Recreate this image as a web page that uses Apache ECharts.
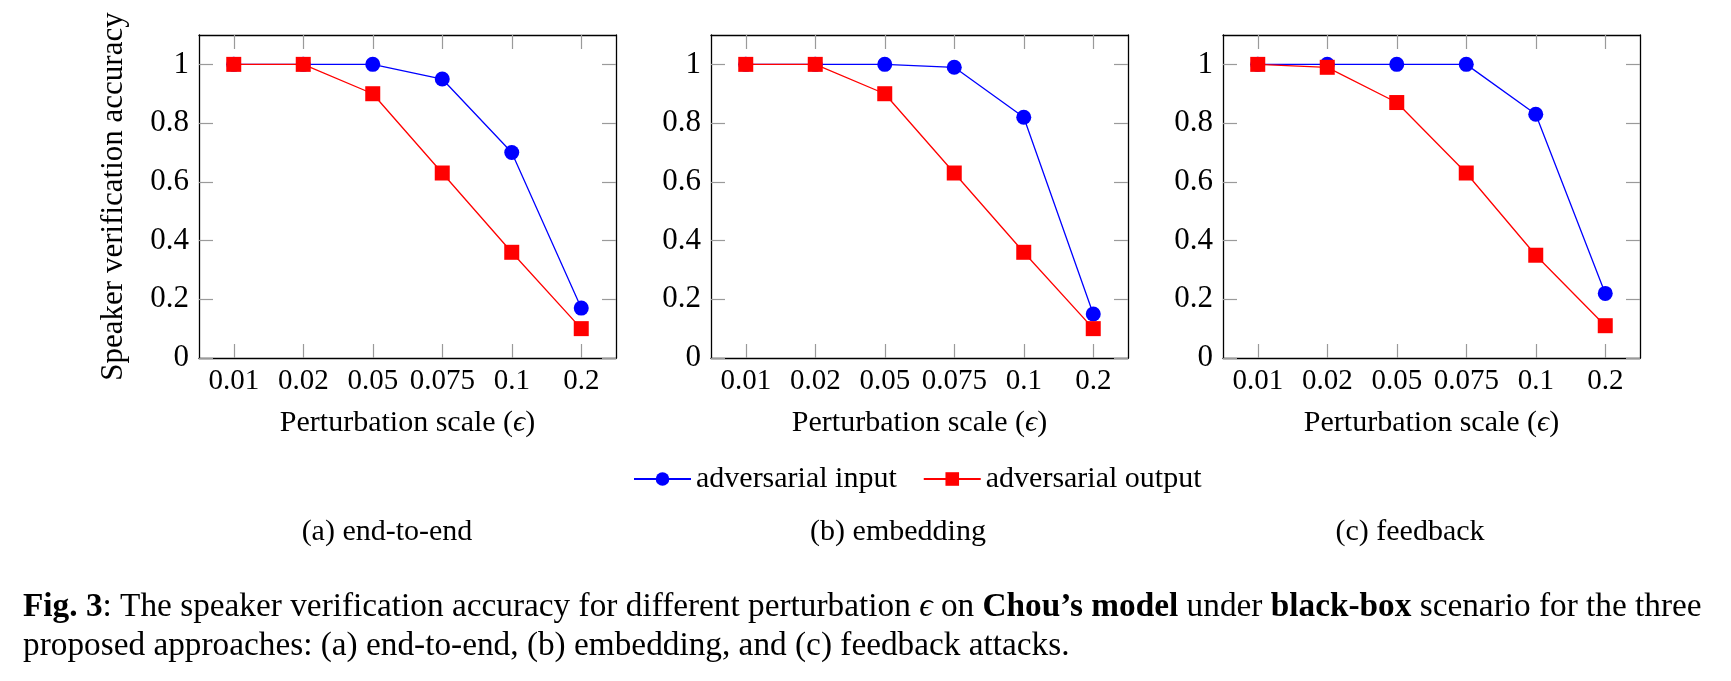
<!DOCTYPE html>
<html>
<head>
<meta charset="utf-8">
<script src="https://cdn.jsdelivr.net/npm/echarts@6/dist/echarts.min.js"></script>
<style>
  html, body { margin: 0; padding: 0; background: #fff; }
  #chart { width: 1731px; height: 681px; }
</style>
</head>
<body>
<div id="chart"></div>
<script>
// ---- data ----
const categories = ['0.01', '0.02', '0.05', '0.075', '0.1', '0.2'];
const yTickValues = [0, 0.2, 0.4, 0.6, 0.8, 1];
const seriesNames = ['adversarial input', 'adversarial output'];
const subCaptions = ['(a) end-to-end', '(b) embedding', '(c) feedback'];

const endToEndInput  = [1, 1, 1, 0.95, 0.70, 0.17];
const endToEndOutput = [1, 1, 0.90, 0.63, 0.36, 0.10];
const embeddingInput  = [1, 1, 1, 0.99, 0.82, 0.15];
const embeddingOutput = [1, 1, 0.90, 0.63, 0.36, 0.10];
const feedbackInput  = [1, 1, 1, 1, 0.83, 0.22];
const feedbackOutput = [1, 0.99, 0.87, 0.63, 0.35, 0.11];

const yAxisTitle = 'Speaker verification accuracy';
const xAxisTitle = 'Perturbation scale ({e|ϵ})';
const captionLine1 = '{b|Fig. 3}: The speaker verification accuracy for different perturbation {i|ϵ} on {b|Chou’s model} under {b|black-box} scenario for the three';
const captionLine2 = 'proposed approaches: (a) end-to-end, (b) embedding, and (c) feedback attacks.';

// ---- layout / style ----
const FONT = '"Liberation Serif", "DejaVu Serif", serif';
const panels = [
  { left: 199, input: endToEndInput, output: endToEndOutput, cap: 387 },
  { left: 711, input: embeddingInput, output: embeddingOutput, cap: 898 },
  { left: 1223, input: feedbackInput, output: feedbackOutput, cap: 1410 }
];
const GRID_TOP = 35, GRID_W = 417, GRID_H = 323;
const BLUE = '#0000ff', RED = '#ff0000';
const CAP_SIZE = 33.3;
const tickStyle = { show: true, inside: true, length: 14, lineStyle: { color: '#9a9a9a', width: 1.2 } };
const lineAxis = { show: true, onZero: false, lineStyle: { color: '#000', width: 1.3 } };

const grid = [], xAxis = [], yAxis = [], series = [], graphic = [];
panels.forEach((p, i) => {
  grid.push({ left: p.left, top: GRID_TOP, width: GRID_W, height: GRID_H });
  // bottom x axis
  xAxis.push({
    type: 'category', gridIndex: i, data: categories, position: 'bottom', boundaryGap: true,
    axisLine: lineAxis,
    axisTick: Object.assign({ alignWithLabel: true, interval: 0 }, tickStyle),
    axisLabel: { interval: 0, hideOverlap: false, fontSize: 29, fontFamily: FONT, color: '#000', margin: 9 },
    name: xAxisTitle, nameLocation: 'middle', nameGap: 50,
    nameTextStyle: { fontSize: 30, fontFamily: FONT, color: '#000',
      rich: { e: { fontSize: 30, fontFamily: FONT, color: '#000', fontStyle: 'italic' } } },
    splitLine: { show: false }
  });
  // top x axis (mirror ticks)
  xAxis.push({
    type: 'category', gridIndex: i, data: categories, position: 'top', boundaryGap: true,
    axisLine: lineAxis,
    axisTick: Object.assign({ alignWithLabel: true, interval: 0 }, tickStyle),
    axisLabel: { show: false }, splitLine: { show: false }
  });
  // left y axis
  yAxis.push({
    type: 'value', gridIndex: i, min: 0, max: 1.1, interval: 0.2, position: 'left',
    axisLine: lineAxis,
    axisTick: Object.assign({ customValues: yTickValues }, tickStyle),
    axisLabel: { customValues: yTickValues, fontSize: 31, fontFamily: FONT, color: '#000', margin: 10,
      formatter: v => String(+v.toFixed(1)) },
    splitLine: { show: false },
    name: i === 0 ? yAxisTitle : '', nameLocation: 'middle', nameGap: 70, nameRotate: 90,
    nameTextStyle: { fontSize: 31, fontFamily: FONT, color: '#000' }
  });
  // right y axis (mirror ticks)
  yAxis.push({
    type: 'value', gridIndex: i, min: 0, max: 1.1, interval: 0.2, position: 'right',
    axisLine: lineAxis,
    axisTick: Object.assign({ customValues: yTickValues }, tickStyle),
    axisLabel: { show: false }, splitLine: { show: false }
  });
  series.push({
    name: seriesNames[0], type: 'line', xAxisIndex: i * 2, yAxisIndex: i * 2,
    data: p.input, symbol: 'circle', symbolSize: 15,
    lineStyle: { color: BLUE, width: 1.3 }, itemStyle: { color: BLUE }, z: 2
  });
  series.push({
    name: seriesNames[1], type: 'line', xAxisIndex: i * 2, yAxisIndex: i * 2,
    data: p.output, symbol: 'rect', symbolSize: 15,
    lineStyle: { color: RED, width: 1.3 }, itemStyle: { color: RED }, z: 3
  });
  graphic.push({
    type: 'text', x: p.cap, y: 532,
    style: { text: subCaptions[i], fontSize: 30, fontFamily: FONT, fill: '#000', align: 'center', verticalAlign: 'middle' }
  });
});

graphic.push({
  type: 'text', x: 23, y: 607,
  style: {
    text: captionLine1, fontSize: CAP_SIZE, fontFamily: FONT, fill: '#000', align: 'left', verticalAlign: 'middle',
    rich: {
      b: { fontSize: CAP_SIZE, fontFamily: FONT, fontWeight: 'bold', fill: '#000' },
      i: { fontSize: CAP_SIZE, fontFamily: FONT, fontStyle: 'italic', fill: '#000' }
    }
  }
});
graphic.push({
  type: 'text', x: 23, y: 646,
  style: { text: captionLine2, fontSize: CAP_SIZE, fontFamily: FONT, fill: '#000', align: 'left', verticalAlign: 'middle' }
});

const chart = echarts.init(document.getElementById('chart'), null, { renderer: 'canvas' });
chart.setOption({
  animation: false,
  backgroundColor: '#fff',
  grid, xAxis, yAxis, series, graphic,
  legend: {
    data: seriesNames, left: 633, top: 464, padding: 0,
    itemWidth: 57, itemHeight: 17, itemGap: 26,
    textStyle: { fontSize: 30, fontFamily: FONT, color: '#000' }
  },
  tooltip: { show: false }
});
</script>
</body>
</html>
